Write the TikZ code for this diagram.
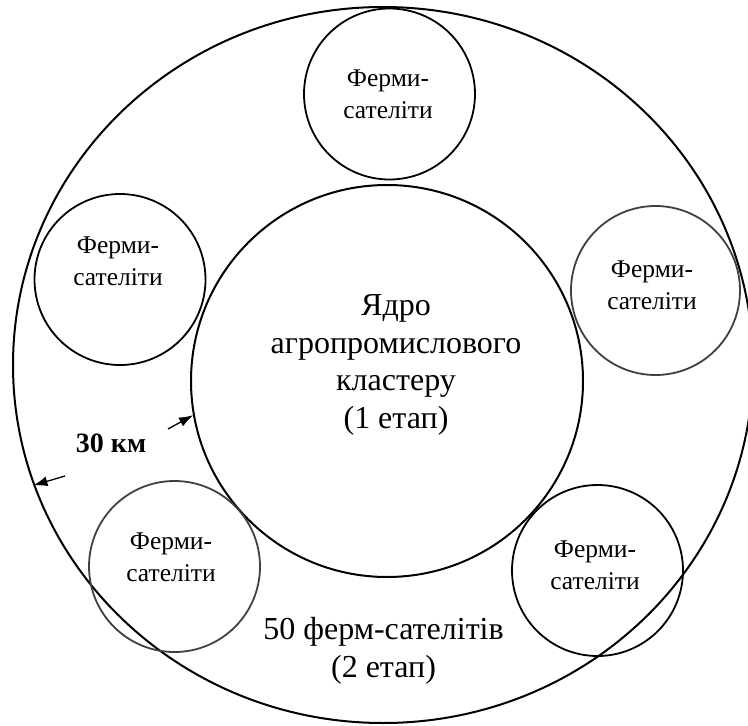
\documentclass[tikz,border=0pt]{standalone}
\usepackage{fontspec}
\setmainfont{Liberation Serif}
\usepackage{tikz}
\usetikzlibrary{shapes.geometric, arrows.meta}

\begin{document}
\begin{tikzpicture}[
    x=1pt, y=-1pt,
    zone/.style={draw, line width=2pt, inner sep=0pt},
    farm/.style={circle, draw, line width=1.8pt, inner sep=0pt, minimum size=171pt},
    farmtext/.style={font=\fontsize{25.5}{32}\selectfont, align=center, inner sep=0pt},
    bigtext/.style={font=\fontsize{32}{37.5}\selectfont, align=center, inner sep=0pt},
    dimarrow/.style={-{Latex[length=14pt,width=10pt]}, line width=1.3pt}
]
\useasboundingbox (0,0) rectangle (748,726);

% Outer zone (2nd stage)
\node[zone, ellipse, minimum width=740pt, minimum height=716pt] (ring) at (383,365) {};
% Core of the cluster (1st stage)
\node[zone, circle, minimum size=392pt] (core) at (387,381) {};
\node[bigtext] (coretext) at (396,365) {Ядро\\агропромислового\\кластеру\\(1 етап)};

% Satellite farms
\node[farm] (s1) at (389.5,94) {};
\node[farm] (s2) at (120,279.5) {};
\node[farm, draw=black!75, minimum size=169pt] (s3) at (655.5,290.5) {};
\node[farm, draw=black!75] (s4) at (174.5,566.5) {};
\node[farm] (s5) at (597.5,570.5) {};

\node[farmtext] (t1) at (388,94) {Ферми-\\сателіти};
\node[farmtext] (t2) at (118,261) {Ферми-\\сателіти};
\node[farmtext] (t3) at (652,285) {Ферми-\\сателіти};
\node[farmtext] (t4) at (171,557) {Ферми-\\сателіти};
\node[farmtext] (t5) at (595,565) {Ферми-\\сателіти};

% Stage 2 label
\node[bigtext] (ringtext) at (383.5,651) {50 ферм-сателітів\\(2 етап)};

% Distance
\node[font=\fontsize{28}{32}\selectfont\bfseries, inner sep=0pt] (dist) at (111,443) {30 км};
\coordinate (a1) at (168,429);
\coordinate (a2) at (65,476);
\draw[dimarrow] (a1) -- (core.190.6);
\draw[dimarrow] (a2) -- (ring.199.6);
\end{tikzpicture}
\end{document}
